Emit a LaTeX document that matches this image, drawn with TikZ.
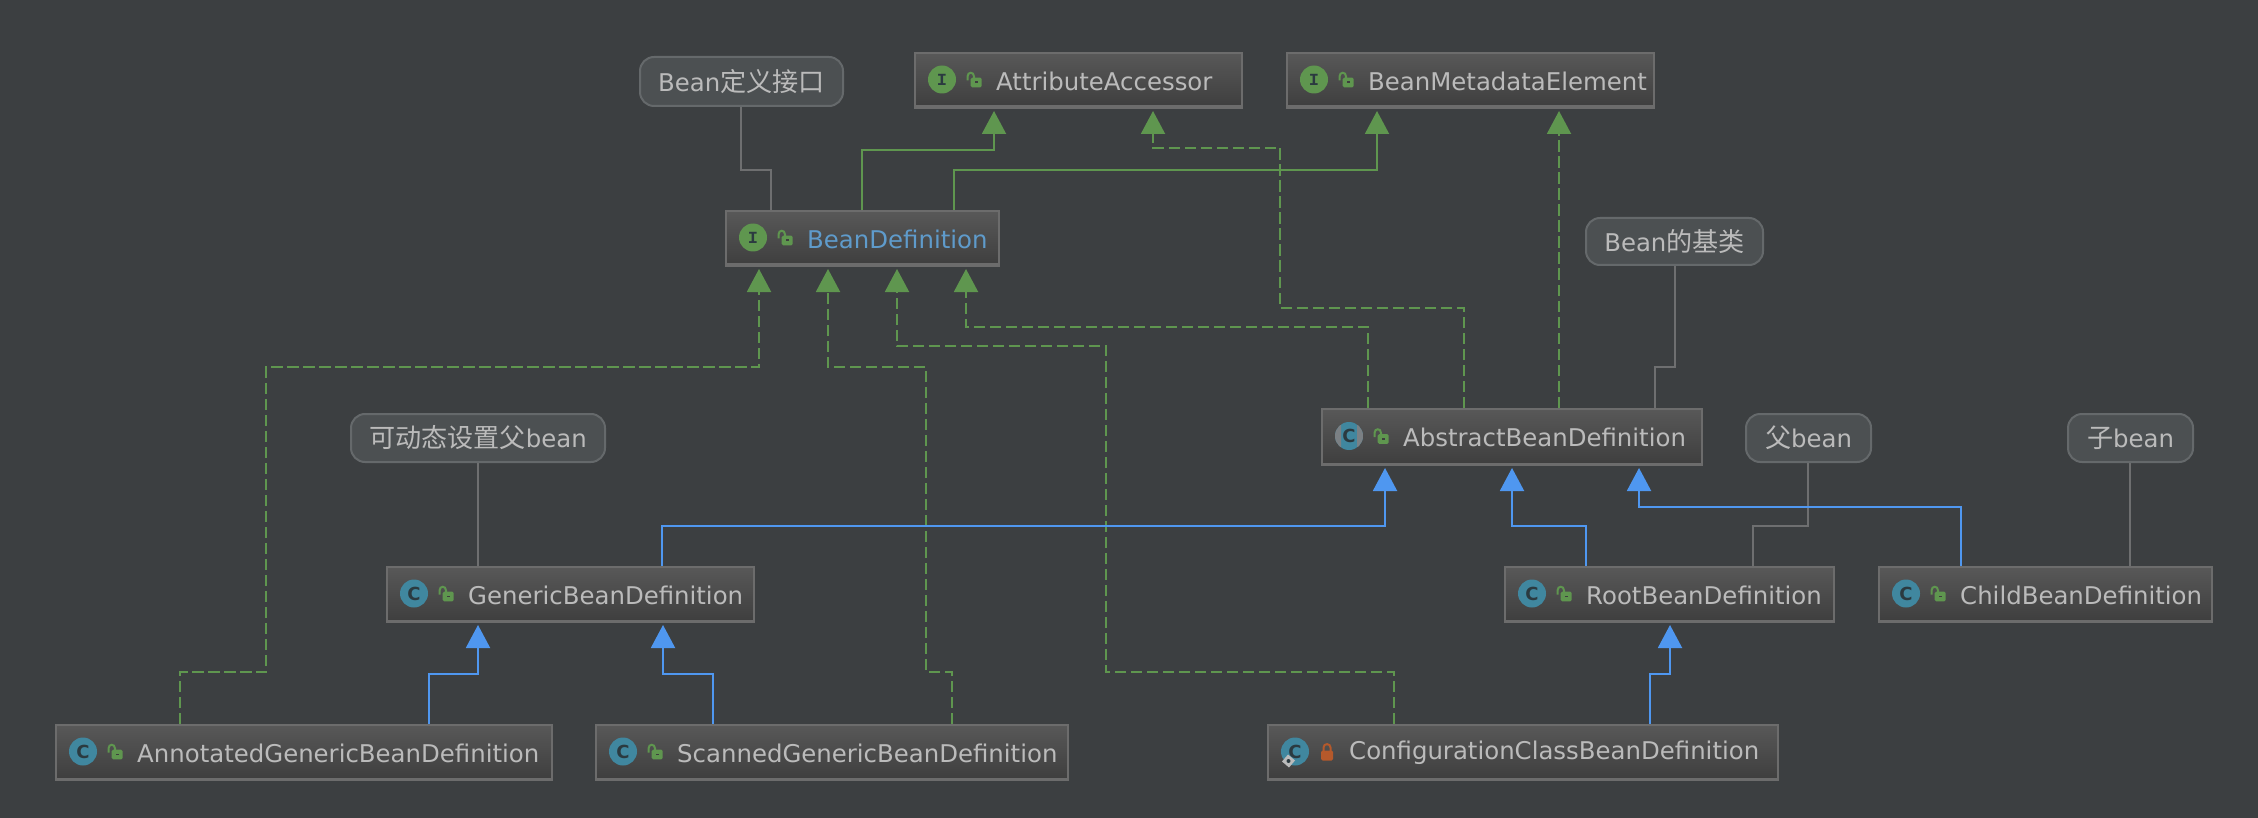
\documentclass[tikz,border=0pt]{standalone}
\usepackage{fontspec}
\usetikzlibrary{arrows.meta}
\setmainfont{DejaVu Sans}
\setsansfont{DejaVu Sans}
\newfontfamily\cjkf[Scale=1.07]{Noto Sans CJK SC}
\newfontfamily\monof{Liberation Mono}
\definecolor{bg}{HTML}{3C3F41}
\definecolor{txt}{HTML}{BBBBBB}
\definecolor{bdtxt}{HTML}{5F9BCB}
\definecolor{grn}{HTML}{5F964F}
\definecolor{blu}{HTML}{4F97F0}
\definecolor{gry}{HTML}{6E6F70}
\definecolor{cic}{HTML}{40879F}
\definecolor{inkd}{HTML}{2B3A40}
\definecolor{boxtop}{HTML}{585858}
\definecolor{boxbot}{HTML}{3E3E3E}
\definecolor{boxline}{HTML}{6C6C6C}
\definecolor{notefill}{HTML}{4C5052}
\definecolor{noteline}{HTML}{65696B}
\definecolor{lockred}{HTML}{B5592B}
\definecolor{absgry}{HTML}{7B8084}
\tikzset{
  x=1pt,y=-1pt,
  umlbox/.style={draw=boxline,line width=2pt,top color=boxtop,bottom color=boxbot,inner sep=0pt},
  notebox/.style={draw=noteline,fill=notefill,line width=2pt,rounded corners=14pt,inner sep=0pt},
  lbl/.style={anchor=west,inner sep=0pt,text=txt,font=\fontsize{24.4}{29}\selectfont},
  ctr/.style={anchor=center,inner sep=0pt,text=txt,font=\fontsize{24.4}{29}\selectfont},
  ic/.style={circle,inner sep=0pt,minimum size=28pt,fill=#1},
  glyph/.style={inner sep=0pt,text=inkd},
  impl/.style={grn,line width=2pt},
  dep/.style={grn,line width=2pt,dash pattern=on 11.5pt off 4.5pt},
  ext/.style={blu,line width=2pt},
  ann/.style={gry,line width=2pt},
  gt/.style={-{Triangle[length=23pt,width=24pt,sep=0pt]},shorten >=2pt},
}
\newcommand\openlock[2]{%
  \fill[grn,rounded corners=1.5pt] (#1-3.3,#2-2.8) rectangle (#1+7.7,#2+6.8);
  \fill[boxbot] (#1+1,#2+1) rectangle (#1+3.5,#2+2.8);
  \draw[grn,line width=2pt] (#1-6.5,#2) -- (#1-6.5,#2-4) .. controls (#1-6.5,#2-9) and (#1,#2-9) .. (#1,#2-4) -- (#1,#2-2);
}
\newcommand\closedlock[2]{%
  \fill[lockred,rounded corners=1.5pt] (#1-6,#2-2) rectangle (#1+6,#2+8);
  \draw[lockred,line width=2pt] (#1-3.5,#2-1) -- (#1-3.5,#2-5) .. controls (#1-3.5,#2-9.5) and (#1+3.5,#2-9.5) .. (#1+3.5,#2-5) -- (#1+3.5,#2-1);
}
% \umlb{name}{left}{top}{right}{bottom}{letter}{textcolor}{text}
\newcommand\umlb[8]{%
  \pgfmathsetmacro\bw{#4-#2-2}\pgfmathsetmacro\bh{#5-#3-2}%
  \pgfmathsetmacro\cx{(#2+#4)/2}\pgfmathsetmacro\cy{(#3+#5)/2}%
  \pgfmathsetmacro\ix{#2+28}\pgfmathsetmacro\lx{#2+60}\pgfmathsetmacro\tx{#2+82}%
  \pgfmathsetmacro\by{#5-2}%
  \node[umlbox,minimum width=\bw pt,minimum height=\bh pt] (#1) at (\cx,\cy) {};
  \draw[boxline,line width=3pt] (#2,\by) -- (#4,\by);
  \if#6I\relax
    \node[ic=grn] (#1i) at (\ix,\cy-1) {};
    \node[glyph,font=\monof\bfseries\fontsize{17}{17}\selectfont] (#1g) at (\ix,\cy-1) {I};
  \else
    \node[ic=cic] (#1i) at (\ix,\cy-1) {};
    \node[glyph,font=\bfseries\fontsize{18}{18}\selectfont] (#1g) at (\ix,\cy-1) {C};
  \fi
  \if#6K\relax
    \fill[txt] (\ix-7,\cy+2) -- (\ix,\cy+8) -- (\ix-6,\cy+15) -- (\ix-13,\cy+9) -- cycle;
    \fill[inkd] (\ix-6.5,\cy+8.5) circle (2);
    \closedlock{\lx}{\cy}
  \else
    \openlock{\lx}{\cy}
  \fi
  \if#6A\relax
    \begin{scope}
      \path[clip] (\ix-16,\cy-16) rectangle (\ix-8,\cy+16);
      \fill[absgry] (\ix,\cy-1) circle (14);
    \end{scope}
    \begin{scope}
      \path[clip] (\ix+8,\cy-16) rectangle (\ix+16,\cy+16);
      \fill[absgry] (\ix,\cy-1) circle (14);
    \end{scope}
  \fi
  \node[lbl,text=#7] (#1t) at (\tx,\cy+0.5) {#8};
}
\newcommand\noteb[6]{%
  \pgfmathsetmacro\bw{#4-#2-2}\pgfmathsetmacro\bh{#5-#3-2}%
  \pgfmathsetmacro\cx{(#2+#4)/2}\pgfmathsetmacro\cy{(#3+#5)/2}%
  \node[notebox,minimum width=\bw pt,minimum height=\bh pt] (#1) at (\cx,\cy) {};
  \node[ctr] (#1t) at (\cx,\cy) {#6};
}
\begin{document}
\begin{tikzpicture}
\fill[bg] (0,0) rectangle (2258,818);
\useasboundingbox (0,0) rectangle (2258,818);
% notes
\noteb{nA}{639}{56}{844}{107}{Bean{\cjkf 定义接口}}
\noteb{nB}{1585}{217}{1764}{266}{Bean{\cjkf 的基类}}
\noteb{nC}{350}{413}{606}{463}{{\cjkf 可动态设置父}bean}
\noteb{nD}{1745}{413}{1872}{463}{{\cjkf 父}bean}
\noteb{nE}{2067}{413}{2194}{463}{{\cjkf 子}bean}
% classes
\umlb{aa}{914}{52}{1243}{109}{I}{txt}{AttributeAccessor}
\umlb{bm}{1286}{52}{1655}{109}{I}{txt}{BeanMetadataElement}
\umlb{bd}{725}{210}{1000}{267}{I}{bdtxt}{BeanDefinition}
\umlb{ab}{1321}{408}{1703}{466}{A}{txt}{AbstractBeanDefinition}
\umlb{ge}{386}{566}{755}{623}{C}{txt}{GenericBeanDefinition}
\umlb{ro}{1504}{566}{1835}{623}{C}{txt}{RootBeanDefinition}
\umlb{ch}{1878}{566}{2213}{623}{C}{txt}{ChildBeanDefinition}
\umlb{an}{55}{724}{553}{781}{C}{txt}{AnnotatedGenericBeanDefinition}
\umlb{sc}{595}{724}{1069}{781}{C}{txt}{ScannedGenericBeanDefinition}
\umlb{co}{1267}{724}{1779}{781}{K}{txt}{ConfigurationClassBeanDefinition}
% note links
\draw[ann] (741,0 |- nA.south) -- (741,170) -- (771,170) -- (771,0 |- bd.north);
\draw[ann] (1675,0 |- nB.south) -- (1675,367) -- (1655,367) -- (1655,0 |- ab.north);
\draw[ann] (478,0 |- nC.south) -- (478,0 |- ge.north);
\draw[ann] (1808,0 |- nD.south) -- (1808,526) -- (1753,526) -- (1753,0 |- ro.north);
\draw[ann] (2130,0 |- nE.south) -- (2130,0 |- ch.north);
% solid interface
\draw[impl,gt] (862,0 |- bd.north) -- (862,150) -- (994,150) -- (994,0 |- aa.south);
\draw[impl,gt] (954,0 |- bd.north) -- (954,170) -- (1377,170) -- (1377,0 |- bm.south);
% dashed
\draw[dep,gt] (1464,0 |- ab.north) -- (1464,308) -- (1280,308) -- (1280,148) -- (1153,148) -- (1153,0 |- aa.south);
\draw[dep,gt] (1559,0 |- ab.north) -- (1559,0 |- bm.south);
\draw[dep,gt] (1368,0 |- ab.north) -- (1368,327) -- (966,327) -- (966,0 |- bd.south);
\draw[dep,gt] (180,0 |- an.north) -- (180,672) -- (266,672) -- (266,367) -- (759,367) -- (759,0 |- bd.south);
\draw[dep,gt] (952,0 |- sc.north) -- (952,672) -- (926,672) -- (926,367) -- (828,367) -- (828,0 |- bd.south);
\draw[dep,gt] (1394,0 |- co.north) -- (1394,672) -- (1106,672) -- (1106,346) -- (897,346) -- (897,0 |- bd.south);
% extends
\draw[ext,gt] (662,0 |- ge.north) -- (662,526) -- (1385,526) -- (1385,0 |- ab.south);
\draw[ext,gt] (1586,0 |- ro.north) -- (1586,526) -- (1512,526) -- (1512,0 |- ab.south);
\draw[ext,gt] (1961,0 |- ch.north) -- (1961,507) -- (1639,507) -- (1639,0 |- ab.south);
\draw[ext,gt] (429,0 |- an.north) -- (429,674) -- (478,674) -- (478,0 |- ge.south);
\draw[ext,gt] (713,0 |- sc.north) -- (713,674) -- (663,674) -- (663,0 |- ge.south);
\draw[ext,gt] (1650,0 |- co.north) -- (1650,674) -- (1670,674) -- (1670,0 |- ro.south);
\end{tikzpicture}
\end{document}
